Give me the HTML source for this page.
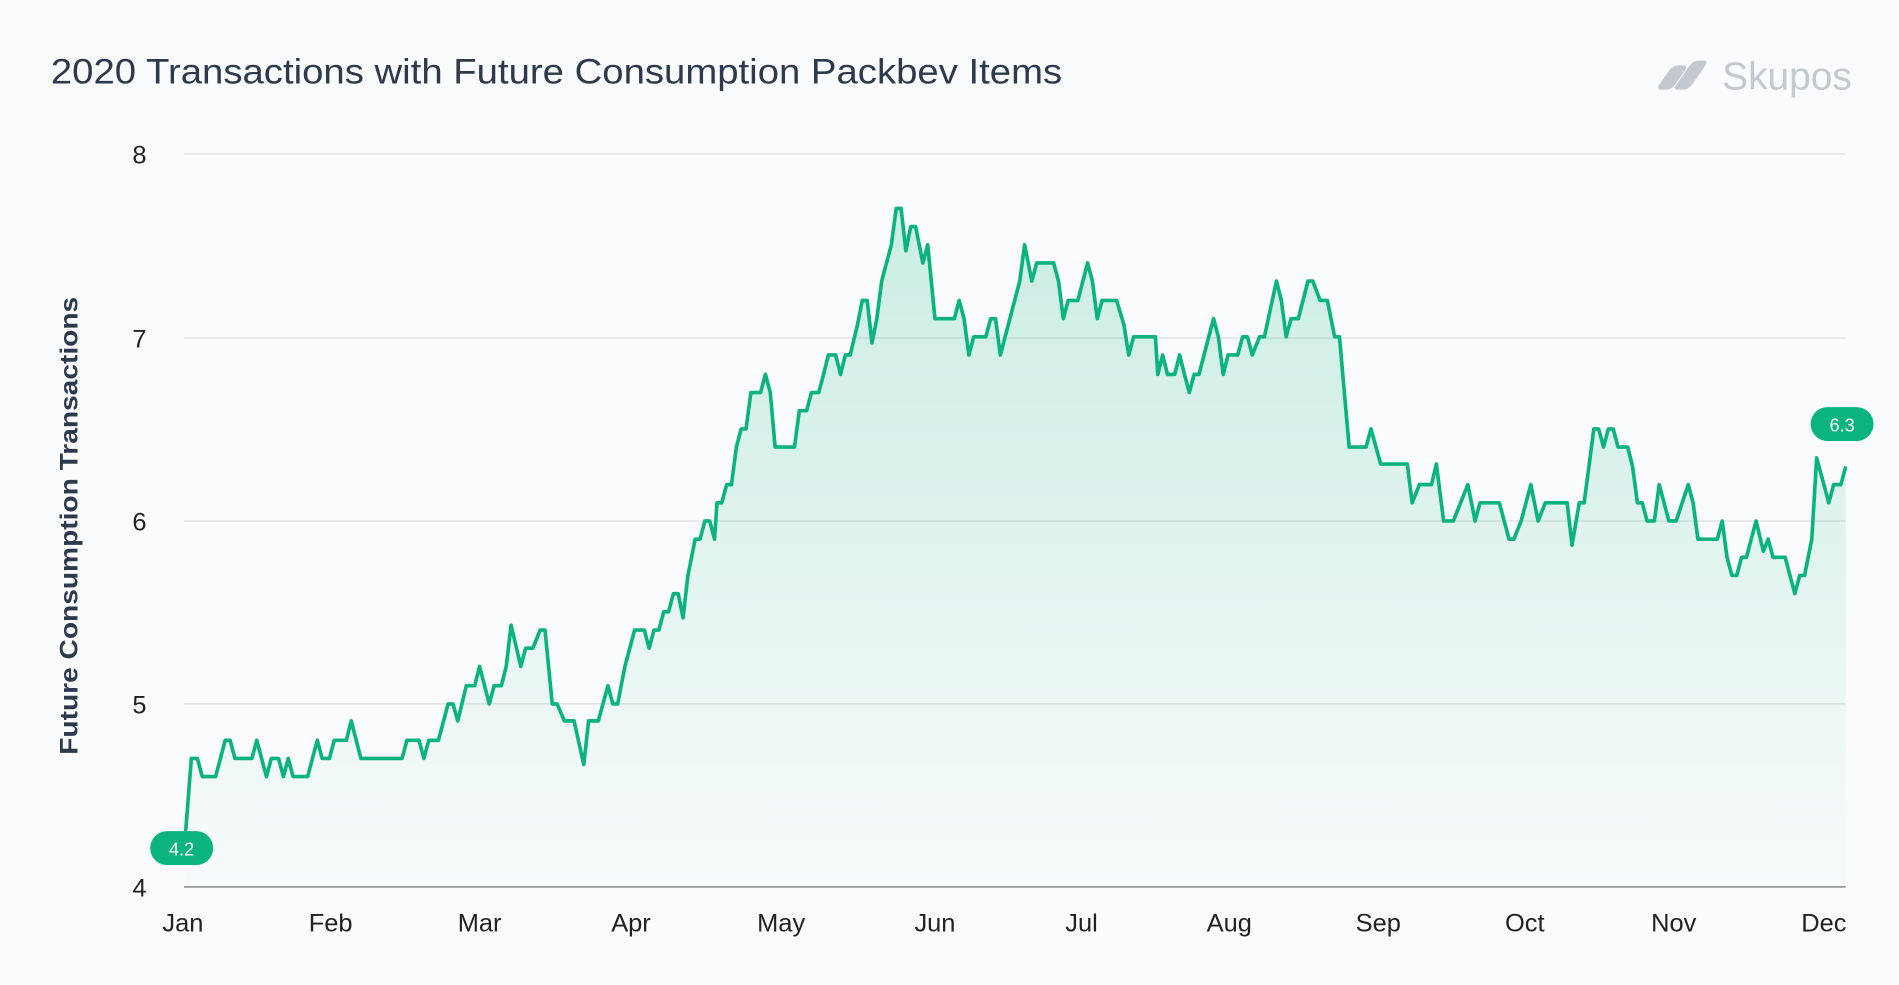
<!DOCTYPE html>
<html><head><meta charset="utf-8"><style>
html,body{margin:0;padding:0;background:#fafbfd;}
svg{display:block;font-family:"Liberation Sans",sans-serif;}
</style></head><body>
<svg width="1899" height="985" viewBox="0 0 1568 813" preserveAspectRatio="none">
<defs>
<linearGradient id="g" x1="0" y1="0" x2="0" y2="1">
<stop offset="0" stop-color="#0bb47e" stop-opacity="0.2"/>
<stop offset="1" stop-color="#0bb47e" stop-opacity="0.01"/>
</linearGradient>
</defs>
<rect width="1568" height="813" fill="#fafbfd"/>
<text x="42" y="69" font-size="29" fill="#2d3a4e" textLength="835" lengthAdjust="spacingAndGlyphs">2020 Transactions with Future Consumption Packbev Items</text>
<g transform="translate(1384,50)">
<rect x="0" y="4" width="13" height="20" rx="4" fill="#c4c8cf" transform="skewX(-35)"/>
<rect x="14" y="0" width="13" height="24" rx="4" fill="#c4c8cf" transform="skewX(-35)"/>
</g>
<text x="1422" y="74" font-size="32" fill="#c4c8cf" textLength="107" lengthAdjust="spacingAndGlyphs">Skupos</text>
<g stroke="#dcdee2" stroke-width="1">
<line x1="152" y1="127" x2="1524" y2="127"/>
<line x1="152" y1="279" x2="1524" y2="279"/>
<line x1="152" y1="430" x2="1524" y2="430"/>
<line x1="152" y1="581" x2="1524" y2="581"/>
</g>
<g font-size="21" fill="#222" text-anchor="end">
<text x="121" y="135">8</text><text x="121" y="287">7</text><text x="121" y="438">6</text><text x="121" y="589">5</text><text x="121" y="740">4</text>
</g>
<text transform="translate(64,434) rotate(-90)" font-size="21" font-weight="bold" fill="#2d3a4e" text-anchor="middle" textLength="378" lengthAdjust="spacingAndGlyphs">Future Consumption Transactions</text>
<g font-size="21" fill="#222" text-anchor="middle">
<text x="151" y="769">Jan</text><text x="273" y="769">Feb</text><text x="396" y="769">Mar</text><text x="521" y="769">Apr</text><text x="645" y="769">May</text><text x="772" y="769">Jun</text><text x="893" y="769">Jul</text><text x="1015" y="769">Aug</text><text x="1138" y="769">Sep</text><text x="1259" y="769">Oct</text><text x="1382" y="769">Nov</text><text x="1506" y="769">Dec</text>
</g>
<path fill="url(#g)" stroke="none" d="M153,732 L153,690 158,626 163,626 167,641 178,641 186,611 190,611 194,626 208,626 212,611 220,641 224,626 230,626 234,641 238,626 242,641 254,641 258,626 262,611 266,626 272,626 276,611 286,611 290,595 298,626 332,626 336,611 346,611 350,626 354,611 362,611 370,581 374,581 378,595 385,566 392,566 396,550 404,581 408,566 414,566 418,550 422,516 430,550 434,535 440,535 446,520 450,520 456,581 460,581 466,595 474,595 482,631 486,595 494,595 502,566 506,581 510,581 516,550 524,520 532,520 536,535 540,520 544,520 548,505 552,505 556,490 560,490 564,510 568,475 574,445 578,445 582,430 586,430 590,445 592,415 596,415 600,400 604,400 608,369 612,354 616,354 620,324 628,324 632,309 636,324 640,369 656,369 660,339 666,339 670,324 676,324 680,309 684,293 690,293 694,309 698,293 702,293 708,268 712,248 716,248 720,283 724,263 728,232 736,202 740,172 744,172 748,207 752,187 756,187 762,217 766,202 772,263 788,263 792,248 796,263 800,293 804,278 814,278 818,263 822,263 826,293 842,232 846,202 852,232 856,217 870,217 874,232 878,263 882,248 890,248 898,217 902,232 906,263 910,248 922,248 928,268 932,293 936,278 954,278 956,309 960,293 964,309 970,309 974,293 978,309 982,324 986,309 990,309 1002,263 1006,278 1010,309 1014,293 1022,293 1026,278 1030,278 1034,293 1040,278 1044,278 1054,232 1058,248 1062,278 1066,263 1072,263 1080,232 1084,232 1090,248 1096,248 1102,278 1106,278 1114,369 1128,369 1132,354 1140,383 1162,383 1166,415 1172,400 1182,400 1186,383 1192,430 1200,430 1206,415 1212,400 1218,430 1222,415 1238,415 1246,445 1250,445 1256,430 1264,400 1270,430 1276,415 1294,415 1298,450 1304,415 1308,415 1312,385 1316,354 1320,354 1324,369 1328,354 1332,354 1336,369 1344,369 1348,385 1352,415 1356,415 1360,430 1366,430 1370,400 1378,430 1384,430 1394,400 1398,415 1402,445 1418,445 1422,430 1426,460 1430,475 1434,475 1438,460 1442,460 1450,430 1456,455 1460,445 1464,460 1474,460 1478,475 1482,490 1486,475 1490,475 1496,445 1500,378 1506,400 1510,415 1514,400 1520,400 1524,385 L1524,732 Z"/>
<polyline fill="none" stroke="#0bb47e" stroke-width="3" stroke-linejoin="round" points="153,690 158,626 163,626 167,641 178,641 186,611 190,611 194,626 208,626 212,611 220,641 224,626 230,626 234,641 238,626 242,641 254,641 258,626 262,611 266,626 272,626 276,611 286,611 290,595 298,626 332,626 336,611 346,611 350,626 354,611 362,611 370,581 374,581 378,595 385,566 392,566 396,550 404,581 408,566 414,566 418,550 422,516 430,550 434,535 440,535 446,520 450,520 456,581 460,581 466,595 474,595 482,631 486,595 494,595 502,566 506,581 510,581 516,550 524,520 532,520 536,535 540,520 544,520 548,505 552,505 556,490 560,490 564,510 568,475 574,445 578,445 582,430 586,430 590,445 592,415 596,415 600,400 604,400 608,369 612,354 616,354 620,324 628,324 632,309 636,324 640,369 656,369 660,339 666,339 670,324 676,324 680,309 684,293 690,293 694,309 698,293 702,293 708,268 712,248 716,248 720,283 724,263 728,232 736,202 740,172 744,172 748,207 752,187 756,187 762,217 766,202 772,263 788,263 792,248 796,263 800,293 804,278 814,278 818,263 822,263 826,293 842,232 846,202 852,232 856,217 870,217 874,232 878,263 882,248 890,248 898,217 902,232 906,263 910,248 922,248 928,268 932,293 936,278 954,278 956,309 960,293 964,309 970,309 974,293 978,309 982,324 986,309 990,309 1002,263 1006,278 1010,309 1014,293 1022,293 1026,278 1030,278 1034,293 1040,278 1044,278 1054,232 1058,248 1062,278 1066,263 1072,263 1080,232 1084,232 1090,248 1096,248 1102,278 1106,278 1114,369 1128,369 1132,354 1140,383 1162,383 1166,415 1172,400 1182,400 1186,383 1192,430 1200,430 1206,415 1212,400 1218,430 1222,415 1238,415 1246,445 1250,445 1256,430 1264,400 1270,430 1276,415 1294,415 1298,450 1304,415 1308,415 1312,385 1316,354 1320,354 1324,369 1328,354 1332,354 1336,369 1344,369 1348,385 1352,415 1356,415 1360,430 1366,430 1370,400 1378,430 1384,430 1394,400 1398,415 1402,445 1418,445 1422,430 1426,460 1430,475 1434,475 1438,460 1442,460 1450,430 1456,455 1460,445 1464,460 1474,460 1478,475 1482,490 1486,475 1490,475 1496,445 1500,378 1506,400 1510,415 1514,400 1520,400 1524,385"/>
<line x1="152" y1="732" x2="1524" y2="732" stroke="#999" stroke-width="1.5"/>
<rect x="124" y="686" width="52" height="28" rx="14" fill="#0bb47e"/>
<text x="150" y="706" font-size="15" fill="#fff" text-anchor="middle">4.2</text>
<rect x="1495" y="336" width="52" height="28" rx="14" fill="#0bb47e"/>
<text x="1521" y="356" font-size="15" fill="#fff" text-anchor="middle">6.3</text>
</svg>
</body></html>
